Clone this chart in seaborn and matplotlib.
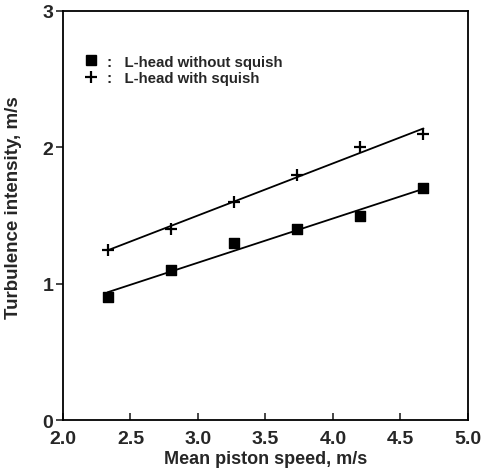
import numpy as np
import pandas as pd
import matplotlib
matplotlib.use("Agg")
import matplotlib.pyplot as plt
import seaborn as sns
from matplotlib.lines import Line2D

sns.set_style("ticks")
plt.rcParams["font.family"] = ["Liberation Sans", "DejaVu Sans"]

speed = [2.33, 2.80, 3.27, 3.73, 4.20, 4.67]
no_squish = [0.90, 1.10, 1.30, 1.40, 1.50, 1.70]
with_squish = [1.25, 1.40, 1.60, 1.80, 2.00, 2.10]
xticks = [2.0, 2.5, 3.0, 3.5, 4.0, 4.5, 5.0]
yticks = [0, 1, 2, 3]

df = pd.DataFrame({"speed": speed, "no_squish": no_squish, "with_squish": with_squish})

fig = plt.figure(figsize=(4.88, 4.77), dpi=100)
ax = fig.add_axes([0.129, 0.117, 0.830, 0.858])

sns.regplot(data=df, x="speed", y="no_squish", ci=None, ax=ax, marker="s",
            scatter_kws=dict(color="black", s=50, edgecolor="black", alpha=1),
            line_kws=dict(color="black", lw=1.3))
sns.regplot(data=df, x="speed", y="with_squish", ci=None, ax=ax, marker="+",
            scatter_kws=dict(color="black", s=70, linewidths=1.6, alpha=1),
            line_kws=dict(color="black", lw=1.3))

ax.set_xlim(2.0, 5.0)
ax.set_ylim(0, 3)
ax.set_xticks(xticks)
ax.set_yticks(yticks)
ax.set_xticklabels([f"{v:.1f}" for v in xticks], fontsize=14, fontweight="bold")
ax.set_yticklabels([str(v) for v in yticks], fontsize=14, fontweight="bold")
ax.tick_params(axis="x", direction="in", length=5, width=1.2, pad=7)
ax.tick_params(axis="y", direction="out", length=5, width=1.2, pad=2)
for s in ax.spines.values():
    s.set_visible(True)
    s.set_linewidth(1.3)
    s.set_color("black")

ax.set_xlabel("Mean piston speed, m/s", fontsize=13, fontweight="bold", labelpad=2)
ax.set_ylabel("Turbulence intensity, m/s", fontsize=13.5, fontweight="bold")
ax.yaxis.set_label_coords(-0.101, 0.523)

handles = [Line2D([], [], marker="s", color="black", ls="none", markersize=7.5),
           Line2D([], [], marker="+", color="black", ls="none", markersize=9, mew=1.6)]
ax.legend(handles, [":   L-head without squish", ":   L-head with squish"],
          loc="upper left", bbox_to_anchor=(0.035, 0.908), frameon=False,
          prop=dict(size=10.8, weight="bold"), handlelength=1.0,
          handletextpad=0.6, labelspacing=0.15, borderaxespad=0)

fig.savefig("out.png", dpi=100)
